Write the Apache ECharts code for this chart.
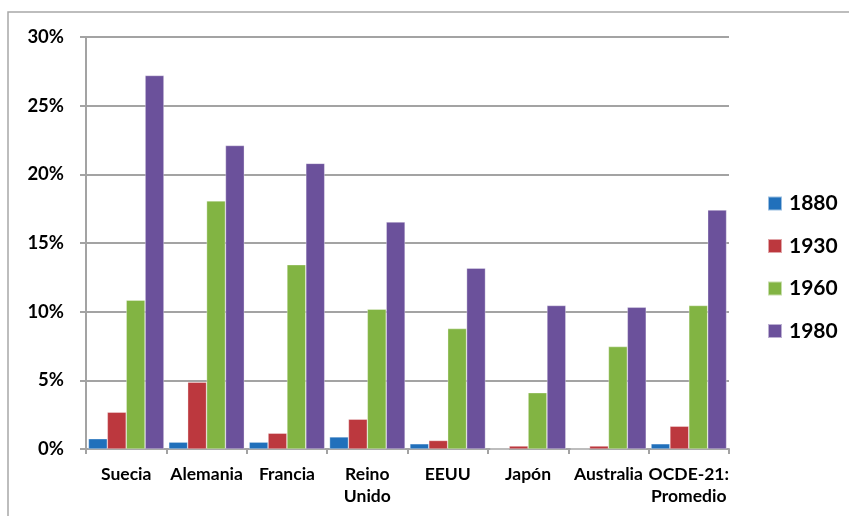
<!DOCTYPE html>
<html>
<head>
<meta charset="utf-8">
<script src="https://cdn.jsdelivr.net/npm/echarts@6/dist/echarts.min.js"></script>
<style>
  html, body { margin: 0; padding: 0; background: #fff; }
  #chart { width: 849px; height: 516px; }
</style>
</head>
<body>
<div id="chart"></div>
<script>
// Country groups on the category axis
const categories = ['Suecia', 'Alemania', 'Francia', 'Reino\nUnido', 'EEUU', 'Japón', 'Australia', 'OCDE-21:\nPromedio'];

// Share (%) for each year
const years = ['1880', '1930', '1960', '1980'];
const v1880 = [0.75, 0.5, 0.5, 0.88, 0.38, 0, 0, 0.38];
const v1930 = [2.68, 4.87, 1.15, 2.17, 0.62, 0.22, 0.22, 1.66];
const v1960 = [10.84, 18.07, 13.42, 10.18, 8.77, 4.1, 7.46, 10.45];
const v1980 = [27.2, 22.1, 20.8, 16.53, 13.17, 10.45, 10.32, 17.4];

// Value axis ticks
const yTicks = [0, 5, 10, 15, 20, 25, 30];

const colors = ['#2170bb', '#bc383e', '#82b443', '#6b519b'];
const seriesValues = [v1880, v1930, v1960, v1980];

const font = 'Lato, "Open Sans", "Liberation Sans", sans-serif';
const gridColor = '#a3a3a3';

const chart = echarts.init(document.getElementById('chart'), null, { renderer: 'canvas' });

chart.setOption({
  animation: false,
  backgroundColor: '#ffffff',
  graphic: [{
    type: 'rect',
    shape: { x: 8, y: 12, width: 900, height: 600 },
    style: { fill: 'none', stroke: '#a8a8a8', lineWidth: 1.5 },
    silent: true
  }],
  grid: { left: 86, right: 120, top: 37, bottom: 67, containLabel: false },
  legend: {
    orient: 'vertical',
    left: 762,
    top: 188,
    itemWidth: 14,
    itemHeight: 14,
    itemGap: 21.5,
    icon: 'rect',
    data: years,
    textStyle: { fontFamily: font, fontWeight: 'bold', fontSize: 21, color: '#000', padding: [0, 0, 0, 2] }
  },
  xAxis: {
    type: 'category',
    data: categories,
    axisLine: { show: true, lineStyle: { color: gridColor, width: 2 } },
    axisTick: { show: true, length: 5, alignWithLabel: false, lineStyle: { color: gridColor, width: 2 } },
    axisLabel: {
      interval: 0,
      margin: 14,
      fontFamily: font,
      fontWeight: 'bold',
      fontSize: 17.5,
      lineHeight: 22,
      color: '#000'
    }
  },
  yAxis: {
    type: 'value',
    min: yTicks[0],
    max: yTicks[yTicks.length - 1],
    interval: yTicks[1] - yTicks[0],
    axisLine: { show: true, lineStyle: { color: gridColor, width: 2 } },
    axisTick: { show: true, length: 6, lineStyle: { color: gridColor, width: 2 } },
    splitLine: { show: true, lineStyle: { color: gridColor, width: 2 } },
    axisLabel: {
      margin: 22,
      formatter: v => v + '%',
      fontFamily: font,
      fontWeight: 'bold',
      fontSize: 18.5,
      color: '#000'
    }
  },
  series: years.map((y, i) => ({
    name: y,
    type: 'bar',
    data: seriesValues[i],
    barGap: 0,
    barCategoryGap: '6%',
    itemStyle: { color: colors[i], borderColor: 'rgba(255,255,255,0.55)', borderWidth: 0.6 }
  }))
});
</script>
</body>
</html>
